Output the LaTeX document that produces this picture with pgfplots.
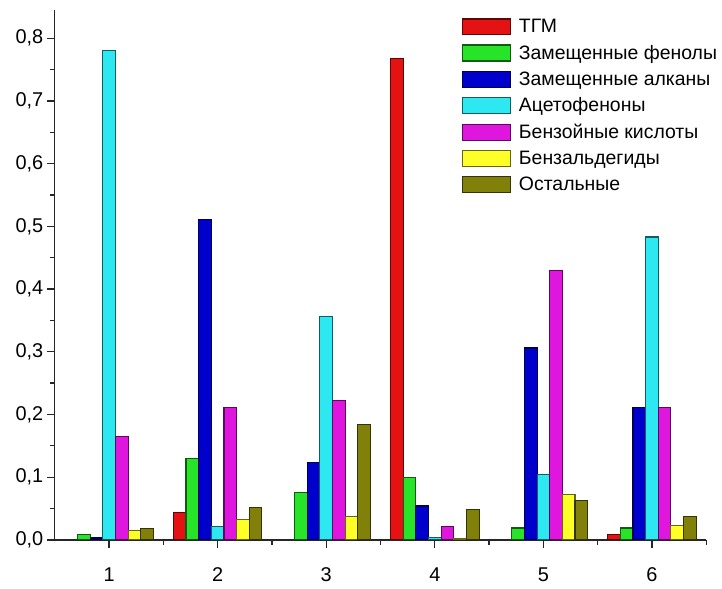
\documentclass[border=0pt]{standalone}
\usepackage{pgfplots}
\pgfplotsset{compat=1.18}
\usepackage{fontspec}
\setmainfont{Liberation Sans}
\definecolor{cTGM}{RGB}{228,18,18}
\definecolor{cGreen}{RGB}{40,228,40}
\definecolor{cBlue}{RGB}{0,0,205}
\definecolor{cCyan}{RGB}{45,232,240}
\definecolor{cMag}{RGB}{222,22,222}
\definecolor{cYel}{RGB}{255,255,40}
\definecolor{cOlive}{RGB}{128,128,10}
\begin{document}
\begin{tikzpicture}
\pgfplotsset{barleg/.style={legend image code/.code={\draw[##1,line width=1.3pt] (0pt,-8pt) rectangle (48pt,8pt);}}}
\begin{axis}[name=ax, scale only axis, width=654pt, height=532pt,
  xmin=0.5, xmax=6.5, ymin=0, ymax=0.845,
  axis x line=bottom, axis y line=left,
  axis line style={-, line width=1.4pt, black!85},
  ybar=0pt, bar width=12.7pt,
  xtick={1,2,3,4,5,6}, minor xtick={1.5,2.5,3.5,4.5,5.5,6.5},
  ytick={0,0.1,0.2,0.3,0.4,0.5,0.6,0.7,0.8},
  minor ytick={0.05,0.15,0.25,0.35,0.45,0.55,0.65,0.75},
  tick align=outside, major tick length=8pt, minor tick length=5pt,
  tick style={line width=1.3pt, black!85},
  /pgf/number format/assume math mode=true,
  yticklabel style={/pgf/number format/.cd, fixed, fixed zerofill, precision=1, use comma},
  xticklabel style={yshift=-16pt},
  tick label style={font=\fontsize{20}{22}\selectfont},
  legend style={at={(0.62,0.99)}, anchor=north west, draw=none, fill=none,
    font=\fontsize{19.5}{22}\selectfont, row sep=7pt, column sep=6pt},
  legend cell align=left,
  every axis plot/.append style={line width=1.1pt},
]
\addplot[fill=cTGM, draw=cTGM!40!black, barleg] coordinates {(2,0.043) (4,0.768) (6,0.008)};
\addlegendentry{ТГМ}
\addplot[fill=cGreen, draw=cGreen!40!black, barleg] coordinates {(1,0.009) (2,0.13) (3,0.076) (4,0.10) (5,0.019) (6,0.019)};
\addlegendentry{Замещенные фенолы}
\addplot[fill=cBlue, draw=cBlue!40!black, barleg] coordinates {(1,0.003) (2,0.511) (3,0.124) (4,0.054) (5,0.306) (6,0.211)};
\addlegendentry{Замещенные алканы}
\addplot[fill=cCyan, draw=cCyan!40!black, barleg] coordinates {(1,0.78) (2,0.022) (3,0.356) (4,0.004) (5,0.105) (6,0.483)};
\addlegendentry{Ацетофеноны}
\addplot[fill=cMag, draw=cMag!40!black, barleg] coordinates {(1,0.165) (2,0.211) (3,0.222) (4,0.021) (5,0.43) (6,0.211)};
\addlegendentry{Бензойные кислоты}
\addplot[fill=cYel, draw=cYel!40!black, barleg] coordinates {(1,0.015) (2,0.032) (3,0.037) (4,0.002) (5,0.073) (6,0.023)};
\addlegendentry{Бензальдегиды}
\addplot[fill=cOlive, draw=cOlive!40!black, barleg] coordinates {(1,0.018) (2,0.051) (3,0.184) (4,0.048) (5,0.063) (6,0.038)};
\addlegendentry{Остальные}
\end{axis}
\path ([shift={(-55pt,-49pt)}]ax.south west) rectangle ([shift={(13pt,10pt)}]ax.north east);
\end{tikzpicture}
\end{document}
